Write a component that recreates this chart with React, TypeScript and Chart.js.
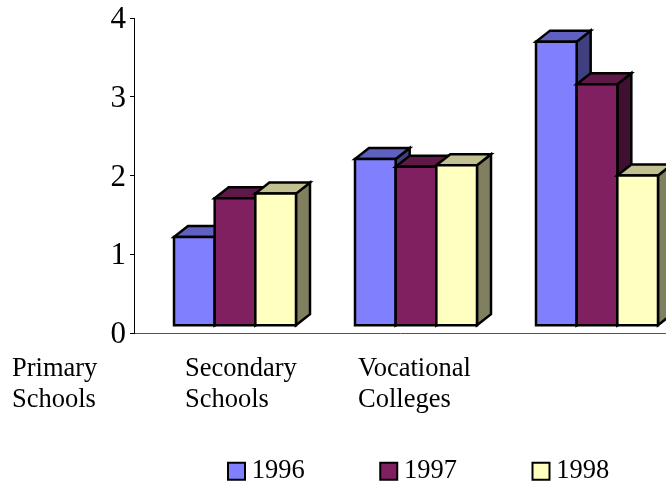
import React, { useEffect, useRef } from "react";
import { Chart, registerables } from "chart.js";

Chart.register(...registerables);

const categories = [["Primary", "Schools"], ["Secondary", "Schools"], ["Vocational", "Colleges"]];
const categoryX = [1, 2, 3];
const years = ["1996", "1997", "1998"];
const series1996 = [1.22, 2.21, 3.7];
const series1997 = [1.71, 2.11, 3.16];
const series1998 = [1.77, 2.13, 2.0];
const seriesValues = [series1996, series1997, series1998];
const yTicks = [0, 1, 2, 3, 4];
const barFloor = 0.1;

const frontColors = ["#8080FF", "#802060", "#FFFFC0"];
const topColors = ["#6060C0", "#601848", "#C0C090"];
const sideColors = ["#404080", "#401030", "#808060"];
const SERIF = "'Liberation Serif', 'Times New Roman', serif";
const DX = 14;
const DY = 11;

const bars3d = {
  id: "bars3d",
  afterLayout(chart: any) {
    const l = chart.legend;
    l.left = 234.5 - 82;
    l.right = 900;
    l.top = 471 - 13 - 82;
    l.bottom = 485;
  },
  beforeDatasetsDraw(chart: any) {
    const ctx = chart.ctx;
    ctx.save();
    ctx.lineWidth = 2.5;
    ctx.strokeStyle = "#000";
    ctx.lineJoin = "miter";
    categories.forEach((_, c) => {
      seriesValues.forEach((__, d) => {
        const el = chart.getDatasetMeta(d).data[c];
        const { x, y, base, width } = el.getProps(["x", "y", "base", "width"], true);
        const l = x - width / 2;
        const r = x + width / 2;
        const poly = (pts: number[][], fill: string) => {
          ctx.beginPath();
          pts.forEach((p, i) => (i ? ctx.lineTo(p[0], p[1]) : ctx.moveTo(p[0], p[1])));
          ctx.closePath();
          ctx.fillStyle = fill;
          ctx.fill();
          ctx.stroke();
        };
        poly([[r, y], [r + DX, y - DY], [r + DX, base - DY], [r, base]], sideColors[d]);
        poly([[l, y], [l + DX, y - DY], [r + DX, y - DY], [r, y]], topColors[d]);
        poly([[l, y], [r, y], [r, base], [l, base]], frontColors[d]);
      });
    });
    ctx.restore();
    return false;
  },
  afterDraw(chart: any) {
    const ctx = chart.ctx;
    ctx.save();
    ctx.fillStyle = "#000";
    ctx.font = `26.5px ${SERIF}`;
    ctx.textAlign = "left";
    ctx.textBaseline = "alphabetic";
    const labelX = [12, 185, 358];
    categories.forEach((lines, i) => {
      lines.forEach((t, j) => ctx.fillText(t, labelX[i], 376 + j * 31));
    });
    ctx.restore();
  },
};

export default function App() {
  const ref = useRef<HTMLCanvasElement>(null);
  useEffect(() => {
    document.body.style.margin = "0";
    const chart = new Chart(ref.current as HTMLCanvasElement, {
      type: "bar",
      data: {
        datasets: years.map((year, d) => ({
          label: year,
          data: seriesValues[d].map((v, i) => ({ x: categoryX[i], y: v })),
          base: barFloor,
          backgroundColor: frontColors[d],
          borderColor: "#000",
          borderWidth: 2,
          pointStyle: "rect",
        })),
      },
      options: {
        animation: false,
        responsive: false,
        events: [],
        categoryPercentage: 122 / 181,
        barPercentage: 1,
        layout: { autoPadding: false, padding: { top: 18, bottom: 52, left: 0, right: 0 } },
        scales: {
          x: {
            type: "linear",
            offset: false,
            min: 1 - 101 / 181,
            max: 1 - 101 / 181 + 532 / 181,
            afterFit: (s: any) => { s.height = 0; s.paddingLeft = 0; s.paddingRight = 0; },
            ticks: { display: false, stepSize: 1, includeBounds: false },
            grid: { display: false, drawTicks: false, offset: false },
            border: { color: "#555", width: 1 },
          },
          y: {
            min: 0,
            max: 4,
            afterFit: (s: any) => { s.width = 134; s.paddingTop = 0; s.paddingBottom = 0; },
            afterBuildTicks: (s: any) => { s.ticks = yTicks.map((value) => ({ value })); },
            ticks: { color: "#000", padding: 4, labelOffset: 2, font: { family: SERIF, size: 31, lineHeight: 1 } },
            grid: { drawOnChartArea: false, tickColor: "#000", tickLength: 4 },
            border: { color: "#000", width: 1 },
          },
        },
        plugins: {
          tooltip: { enabled: false },
          title: { display: false },
          legend: {
            position: "bottom",
            align: "start",
            maxHeight: 100,
            labels: {
              usePointStyle: true,
              boxWidth: 4,
              boxHeight: 17,
              padding: 82,
              color: "#000",
              font: { family: SERIF, size: 26.5 },
            },
          },
        },
      } as any,
      plugins: [bars3d],
    });
    return () => chart.destroy();
  }, []);
  return <canvas ref={ref} width={666} height={485} style={{ display: "block" }} />;
}
